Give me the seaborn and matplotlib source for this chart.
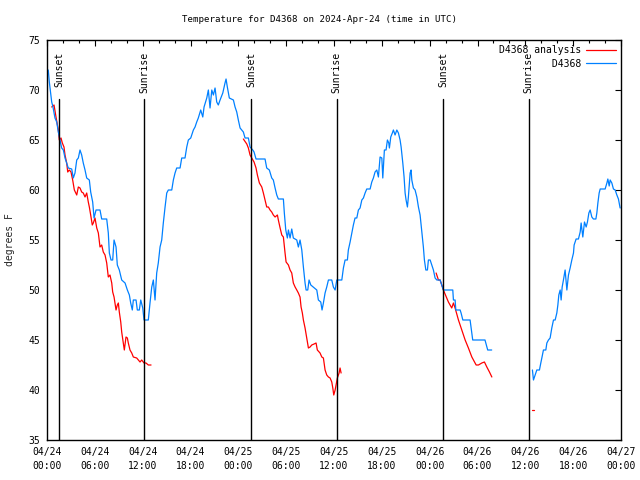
import matplotlib
matplotlib.use("Agg")  # headless
import matplotlib.pyplot as plt
import matplotlib.dates as mdates
from matplotlib.ticker import MultipleLocator
import pandas as pd
import seaborn as sns

START = pd.Timestamp("2024-04-24 00:00")
SPAN_HOURS = 72

# ── Observations: (hours since 04/24 00:00 UTC, degrees F) ─────────────────
d4368_part1 = [
    (0.16, 72.0), (0.29, 70.8), (0.59, 68.8), (0.75, 68.3), (1.00, 67.2), (1.22, 66.8), (1.42, 65.8), (1.63, 65.0),
    (1.84, 64.2), (2.05, 64.0), (2.26, 63.2), (2.67, 62.2), (3.10, 62.1), (3.30, 61.2), (3.51, 61.7), (3.73, 63.0),
    (3.93, 63.2), (4.14, 64.0), (4.35, 63.5), (4.55, 62.7), (4.77, 62.0), (4.98, 61.2), (5.31, 61.0), (5.48, 59.8),
    (5.73, 58.8), (5.90, 57.2), (6.15, 58.0), (6.65, 58.0), (6.86, 57.1), (7.49, 57.1), (7.69, 55.7), (7.82, 53.7),
    (8.03, 53.0), (8.24, 53.0), (8.41, 55.0), (8.66, 54.3), (8.82, 52.5), (9.07, 52.0), (9.37, 51.0), (9.79, 50.7),
    (10.08, 50.0), (10.33, 49.5), (10.50, 48.7), (10.70, 48.0), (10.83, 49.0), (11.17, 49.0), (11.33, 48.0),
    (11.58, 48.0), (11.76, 49.0), (12.01, 48.2), (12.17, 47.0), (12.71, 47.0), (12.92, 48.7), (13.14, 50.3),
    (13.34, 51.0), (13.55, 49.0), (13.76, 51.7), (13.96, 52.7), (14.18, 54.3), (14.39, 55.0), (14.59, 56.7),
    (14.81, 58.3), (15.02, 59.7), (15.22, 60.0), (15.65, 60.0), (15.85, 61.0), (16.06, 61.7), (16.27, 62.2),
    (16.69, 62.2), (16.90, 63.2), (17.31, 63.2), (17.53, 64.3), (17.73, 65.0), (18.03, 65.2), (18.36, 66.0),
    (18.57, 66.3), (18.78, 66.8), (18.98, 67.2), (19.28, 68.0), (19.54, 67.3), (19.70, 68.3), (20.04, 69.2),
    (20.24, 70.0), (20.45, 68.2), (20.67, 70.0), (20.87, 69.5), (21.08, 70.2), (21.29, 68.8), (21.49, 68.5),
    (21.71, 69.0), (22.05, 69.7), (22.33, 70.7), (22.46, 71.1), (22.62, 70.3), (22.87, 69.2), (23.38, 69.0),
    (23.59, 68.3), (23.80, 67.8), (24.00, 67.0), (24.22, 66.2), (24.63, 65.8), (24.84, 65.2), (25.26, 65.2),
    (25.47, 64.3), (25.81, 64.0), (25.97, 63.8), (26.22, 63.1), (27.35, 63.1), (27.56, 62.2), (27.89, 62.0),
    (28.19, 61.2), (28.39, 61.0), (28.61, 60.2), (28.82, 59.5), (29.02, 59.1), (29.65, 59.1), (29.77, 57.7),
    (29.95, 56.0), (30.15, 55.2), (30.28, 56.0), (30.49, 55.2), (30.70, 56.1), (30.90, 55.2), (31.33, 55.0),
    (31.53, 54.3), (31.74, 55.0), (31.96, 54.0), (32.16, 52.3), (32.37, 50.7), (32.50, 50.0), (32.71, 50.0),
    (32.87, 51.0), (33.09, 50.5), (33.84, 50.0), (34.04, 49.0), (34.34, 48.8), (34.50, 48.0), (34.67, 48.7),
    (34.88, 49.7), (35.09, 50.3), (35.30, 51.0), (35.72, 51.0), (35.92, 50.3), (36.14, 50.0), (36.35, 51.0),
    (36.98, 51.0), (37.18, 52.2), (37.39, 53.0), (37.68, 53.0), (37.80, 54.0), (38.02, 54.8), (38.23, 55.7),
    (38.43, 56.5), (38.64, 57.2), (38.86, 57.2), (39.06, 58.0), (39.27, 58.2), (39.49, 59.0), (39.69, 59.2),
    (39.90, 59.7), (40.11, 60.1), (40.53, 60.1), (40.74, 60.8), (40.94, 61.2), (41.15, 61.8), (41.37, 62.0),
    (41.57, 61.3), (41.78, 63.3), (42.00, 63.2), (42.12, 61.2), (42.32, 64.0), (42.53, 64.0), (42.70, 65.0),
    (42.87, 64.7), (42.95, 64.2), (43.12, 65.3), (43.32, 65.7), (43.45, 66.0), (43.66, 65.5), (43.88, 66.0),
    (44.08, 65.7), (44.29, 65.0), (44.42, 64.3), (44.63, 62.7), (44.79, 61.3), (44.92, 59.7), (45.04, 59.0),
    (45.21, 58.3), (45.33, 59.3), (45.55, 61.7), (45.67, 62.0), (45.76, 61.0), (45.96, 60.2), (46.17, 60.0),
    (46.39, 59.3), (46.59, 58.3), (46.80, 57.5), (46.93, 56.5), (47.09, 55.3), (47.21, 54.3), (47.34, 53.0),
    (47.52, 52.0), (47.72, 52.0), (47.84, 53.0), (48.06, 53.0), (48.27, 52.5), (48.47, 52.0), (48.68, 51.2),
    (48.90, 51.0), (49.31, 51.0), (49.52, 50.5), (49.72, 50.0), (50.90, 50.0), (50.98, 49.0), (51.19, 49.0),
    (51.28, 48.0), (51.82, 48.0), (51.94, 47.7), (52.16, 47.0), (53.07, 47.0), (53.19, 46.3), (53.40, 45.0),
    (54.94, 45.0), (55.28, 44.0), (55.78, 44.0),
]
d4368_part2 = [
    (60.89, 42.0), (61.02, 41.0), (61.23, 41.5), (61.44, 42.0), (61.77, 42.0), (61.94, 42.7), (62.07, 43.2),
    (62.27, 44.0), (62.57, 44.0), (62.70, 44.7), (62.90, 45.0), (63.11, 45.2), (63.32, 46.2), (63.53, 47.0),
    (63.74, 47.0), (63.95, 47.7), (64.08, 48.5), (64.20, 49.5), (64.37, 50.0), (64.49, 49.0), (64.62, 50.3),
    (64.78, 51.0), (64.99, 52.0), (65.21, 50.0), (65.41, 51.5), (65.62, 52.2), (65.83, 53.0), (66.04, 53.7),
    (66.12, 54.5), (66.37, 55.1), (66.66, 55.1), (66.88, 55.8), (67.00, 56.7), (67.21, 55.3), (67.42, 56.8),
    (67.63, 56.3), (67.79, 56.8), (67.97, 57.7), (68.13, 58.0), (68.34, 57.3), (68.54, 57.1), (68.85, 57.1),
    (68.97, 57.7), (69.10, 58.7), (69.26, 59.7), (69.39, 60.1), (70.01, 60.1), (70.23, 60.7), (70.35, 61.1),
    (70.52, 60.4), (70.64, 61.0), (70.85, 60.7), (71.05, 60.1), (71.27, 60.0), (71.48, 59.5), (71.68, 59.1),
    (71.89, 58.2),
]

analysis_part1 = [
    (0.59, 68.3), (0.88, 68.5), (1.13, 67.3), (1.42, 66.0), (1.54, 65.0), (1.76, 65.2), (1.92, 64.7), (2.13, 64.3),
    (2.26, 63.5), (2.47, 62.7), (2.60, 61.8), (2.80, 62.0), (3.01, 61.8), (3.22, 61.0), (3.43, 60.0), (3.73, 59.5),
    (3.93, 60.3), (4.14, 60.2), (4.35, 59.8), (4.55, 59.7), (4.77, 59.3), (4.98, 59.7), (5.18, 58.8), (5.31, 58.3),
    (5.48, 57.5), (5.68, 56.5), (5.81, 56.7), (6.02, 57.2), (6.24, 56.2), (6.44, 55.7), (6.65, 54.3), (6.86, 54.5),
    (7.06, 53.8), (7.28, 53.5), (7.49, 52.7), (7.69, 51.3), (7.90, 51.5), (8.12, 50.7), (8.24, 49.8), (8.41, 49.3),
    (8.66, 48.0), (8.82, 48.5), (8.95, 48.7), (9.07, 47.8), (9.25, 46.8), (9.37, 45.8), (9.57, 44.7), (9.70, 44.0),
    (9.91, 45.3), (10.08, 45.2), (10.20, 44.7), (10.41, 44.0), (10.63, 43.7), (10.83, 43.3), (11.25, 43.2),
    (11.67, 42.8), (11.88, 43.0), (12.17, 42.7), (12.42, 42.7), (12.71, 42.5), (13.05, 42.5),
]
analysis_part2 = [
    (24.63, 65.1), (25.06, 64.6), (25.26, 64.2), (25.47, 63.5), (25.68, 63.2), (25.97, 62.8), (26.22, 62.2),
    (26.39, 61.5), (26.64, 60.7), (26.94, 60.3), (27.14, 59.7), (27.35, 59.0), (27.56, 58.3), (27.77, 58.3),
    (27.98, 58.0), (28.19, 57.8), (28.39, 57.5), (28.61, 57.3), (28.90, 57.5), (29.02, 57.0), (29.24, 56.2),
    (29.45, 55.5), (29.65, 55.3), (29.86, 53.7), (29.99, 52.8), (30.28, 52.5), (30.49, 52.0), (30.70, 51.7),
    (30.90, 50.7), (31.12, 50.3), (31.33, 50.0), (31.53, 49.7), (31.74, 49.3), (31.87, 48.3), (32.03, 47.7),
    (32.16, 47.0), (32.37, 46.2), (32.58, 45.2), (32.79, 44.2), (33.00, 44.3), (33.21, 44.5), (33.50, 44.6),
    (33.75, 44.7), (33.91, 44.0), (34.25, 43.7), (34.47, 43.3), (34.67, 43.2), (34.88, 42.0), (35.09, 41.5),
    (35.30, 41.3), (35.51, 41.2), (35.72, 40.8), (35.85, 40.2), (35.97, 39.5), (36.14, 40.0), (36.26, 40.5),
    (36.42, 41.2), (36.64, 41.7), (36.76, 42.2), (36.89, 41.7),
]
analysis_part3 = [
    (48.81, 51.7), (49.10, 51.0), (49.31, 51.0), (49.72, 50.0), (50.35, 48.8), (50.77, 48.2), (50.98, 48.7),
    (51.19, 48.2), (51.61, 47.0), (52.03, 46.0), (52.45, 45.0), (52.86, 44.2), (53.29, 43.3), (53.83, 42.5),
    (54.12, 42.5), (54.54, 42.7), (54.87, 42.8), (55.17, 42.3), (55.50, 41.8), (55.80, 41.3),
]
analysis_part4 = [(60.89, 38.0), (61.10, 38.0)]

# sunset / sunrise markers
event_hours = [1.54, 12.21, 25.64, 36.35, 49.72, 60.44]
event_labels = ["Sunset", "Sunrise", "Sunset", "Sunrise", "Sunset", "Sunrise"]

series_names = ["D4368 analysis", "D4368"]
series_colors = ["#ff0000", "#0080ff"]
title = "Temperature for D4368 on 2024-Apr-24 (time in UTC)"
FONT_SIZE = 7


def to_frame(points, series, segment):
    df = pd.DataFrame(points, columns=["hours", "temp"])
    df["time"] = START + pd.to_timedelta(df["hours"], unit="h")
    df["series"] = series
    df["segment"] = segment
    return df


data = pd.concat([
    to_frame(analysis_part1, series_names[0], "a1"),
    to_frame(analysis_part2, series_names[0], "a2"),
    to_frame(analysis_part3, series_names[0], "a3"),
    to_frame(analysis_part4, series_names[0], "a4"),
    to_frame(d4368_part1, series_names[1], "b1"),
    to_frame(d4368_part2, series_names[1], "b2"),
], ignore_index=True)

sns.set_theme(style="white")
plt.rcParams["font.family"] = ["DejaVu Sans Mono"]
plt.rcParams["text.color"] = "black"
plt.rcParams["xtick.color"] = "black"
plt.rcParams["ytick.color"] = "black"

fig = plt.figure(figsize=(6.4, 4.8), dpi=100)
ax = fig.add_axes([47 / 640, 40 / 480, 574 / 640, 400 / 480])

# segments keep the gaps in the record unconnected
sns.lineplot(
    data=data, x="time", y="temp", hue="series", hue_order=series_names,
    palette=series_colors, units="segment", estimator=None, sort=False,
    linewidth=0.9, ax=ax,
)

# ── Sunset / sunrise lines ─────────────────────────────────────────────────
for h, label in zip(event_hours, event_labels):
    x = mdates.date2num(START + pd.Timedelta(hours=h))
    ax.axvline(x, ymin=0, ymax=0.8525, color="black", linewidth=1)
    ax.text(x, 0.97, label, transform=ax.get_xaxis_transform(), rotation=90,
            ha="center", va="top", fontsize=FONT_SIZE)

# ── Axes ───────────────────────────────────────────────────────────────────
ax.set_xlim(mdates.date2num(START), mdates.date2num(START + pd.Timedelta(hours=SPAN_HOURS)))
ax.set_ylim(35, 75)
ax.yaxis.set_major_locator(MultipleLocator(5))
ax.xaxis.set_major_locator(mdates.HourLocator(byhour=[0, 6, 12, 18]))
ax.xaxis.set_minor_locator(mdates.HourLocator(byhour=range(0, 24, 2)))
ax.xaxis.set_major_formatter(mdates.DateFormatter("%m/%d\n%H:%M"))
ax.tick_params(which="both", direction="in", top=True, right=True,
               labelsize=FONT_SIZE, width=0.8)
ax.tick_params(which="major", length=4, pad=5)
ax.tick_params(which="minor", length=2)
for spine in ax.spines.values():
    spine.set_color("black")
    spine.set_linewidth(1)

ax.set_xlabel("")
ax.set_ylabel("degrees F", fontsize=FONT_SIZE)
ax.yaxis.set_label_coords(-0.056, 0.5)
fig.text(0.5, 1 - 20 / 480, title, ha="center", va="center", fontsize=6.6)

# legend: label then sample, labels right-aligned (monospace padding)
handles, labels = ax.get_legend_handles_labels()
width = max(len(s) for s in labels)
ax.legend(handles, [s.rjust(width) for s in labels], loc="upper right",
          frameon=False, markerfirst=False, fontsize=FONT_SIZE,
          handlelength=3.1, handletextpad=0.4, labelspacing=0.35,
          borderaxespad=0.15)

fig.canvas.draw()
for lbl in ax.get_xticklabels():
    lbl.set_linespacing(1.45)

fig.savefig("out.png", dpi=100)
plt.close(fig)
